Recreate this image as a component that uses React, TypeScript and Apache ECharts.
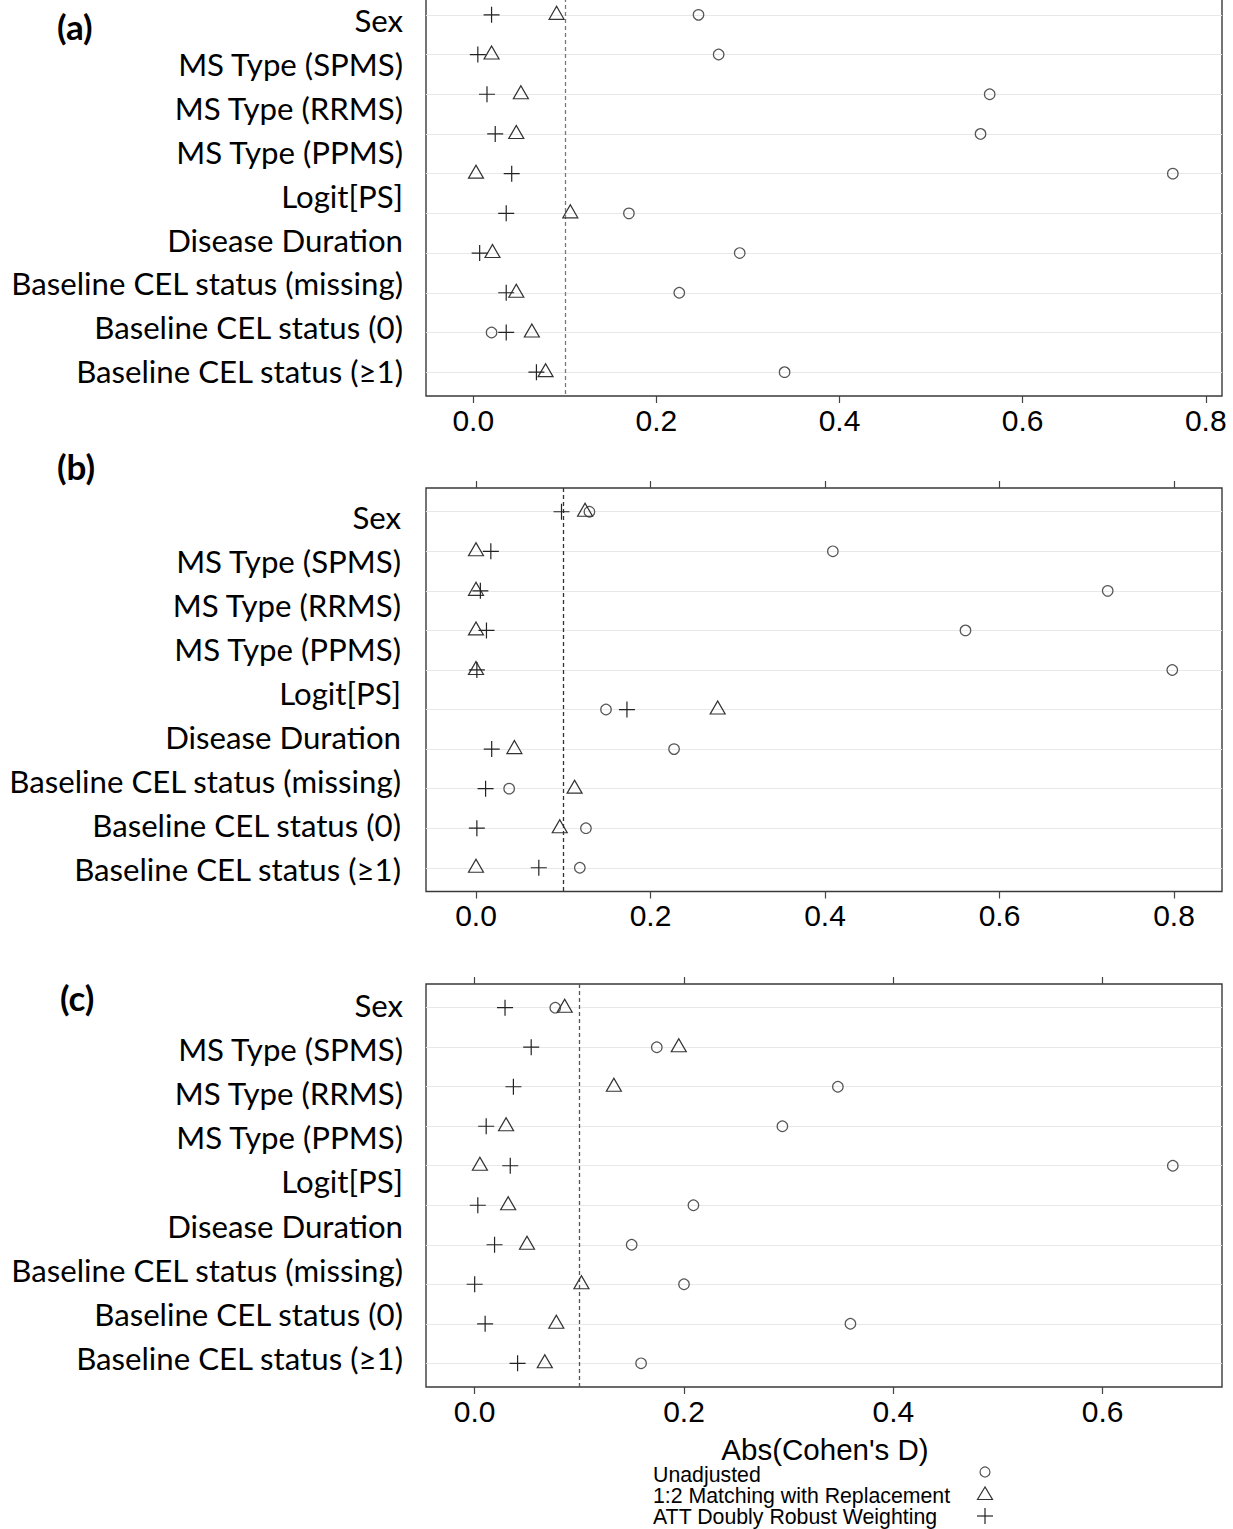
import React, { useEffect, useRef } from "react";
import * as echarts from "echarts";

// ---------- data ----------
const covariates = [
  "Sex",
  "MS Type (SPMS)",
  "MS Type (RRMS)",
  "MS Type (PPMS)",
  "Logit[PS]",
  "Disease Duration",
  "Baseline CEL status (missing)",
  "Baseline CEL status (0)",
  "Baseline CEL status (\u22651)",
];
const panelNames = ["(a)", "(b)", "(c)"];
const methodNames = ["Unadjusted", "1:2 Matching with Replacement", "ATT Doubly Robust Weighting"];
const axisTitle = "Abs(Cohen's D)";

// row values, top row first (10 plotted rows per panel)
const unadjustedA = [0.246, 0.268, 0.564, 0.554, 0.764, 0.17, 0.291, 0.225, 0.02, 0.34];
const matchingA = [0.091, 0.02, 0.052, 0.047, 0.003, 0.106, 0.021, 0.047, 0.064, 0.079];
const attA = [0.02, 0.005, 0.015, 0.024, 0.042, 0.036, 0.007, 0.036, 0.036, 0.069];

const unadjustedB = [0.13, 0.409, 0.724, 0.561, 0.798, 0.149, 0.227, 0.038, 0.126, 0.119];
const matchingB = [0.125, 0.0, 0.0, 0.0, 0.0, 0.277, 0.044, 0.113, 0.096, 0.0];
const attB = [0.098, 0.017, 0.005, 0.012, 0.001, 0.173, 0.018, 0.011, 0.001, 0.072];

const unadjustedC = [0.077, 0.174, 0.347, 0.294, 0.667, 0.209, 0.15, 0.2, 0.359, 0.159];
const matchingC = [0.086, 0.195, 0.133, 0.03, 0.005, 0.032, 0.05, 0.102, 0.078, 0.067];
const attC = [0.029, 0.054, 0.037, 0.011, 0.034, 0.003, 0.019, 0.0, 0.01, 0.041];

const ticksAB = [0, 0.2, 0.4, 0.6, 0.8];
const ticksC = [0, 0.2, 0.4, 0.6];
const threshold = 0.1;

// ---------- layout ----------
const W = 1233;
const H = 1529;
const OFF = 30; // the chart canvas starts above the page so panel (a) can be cut off at its top
const panels = [
  { top: -9, height: 405, xmin: -0.0516, xmax: 0.8177, ticks: ticksAB, data: [unadjustedA, matchingA, attA], dash: "#7a7a7a", labelY: 20, labelRight: 403, labelStep: 43.9, tagX: 57, tagY: 26 },
  { top: 488, height: 403.5, xmin: -0.0573, xmax: 0.855, ticks: ticksAB, data: [unadjustedB, matchingB, attB], dash: "#333333", labelY: 517, labelRight: 401, labelStep: 44, tagX: 57, tagY: 466 },
  { top: 984, height: 403, xmin: -0.0465, xmax: 0.714, ticks: ticksC, data: [unadjustedC, matchingC, attC], dash: "#555555", labelY: 1005, labelRight: 403, labelStep: 44.1, tagX: 60, tagY: 997 },
];

const labelFont = "Lato, 'Open Sans', sans-serif";
const numFont = "'Liberation Sans', Arial, sans-serif";

const symbolDefs = [
  { symbol: "circle", size: 10.5, offset: [0, 0], color: "#555555" },
  { symbol: "triangle", size: [15, 13], offset: [0, -2], color: "#333333" },
  { symbol: "path://M0,8L16,8M8,0L8,16", size: 16, offset: [0, 0], color: "#222222" },
];

export default function App() {
  const ref = useRef<HTMLDivElement>(null);
  useEffect(() => {
    if (!ref.current) return;
    const chart = echarts.init(ref.current, null, { renderer: "svg" });

    const grid: any[] = [];
    const xAxis: any[] = [];
    const yAxis: any[] = [];
    const series: any[] = [];
    const graphic: any[] = [];
    const rows = panels[0].data[0].map((_, i) => i + 1);

    panels.forEach((p, pi) => {
      grid.push({
        left: 426,
        right: 11,
        top: p.top + OFF,
        height: p.height,
        show: true,
        borderColor: "#3a3a3a",
        borderWidth: 1.4,
        backgroundColor: "transparent",
        containLabel: false,
      });
      xAxis.push({
        type: "value",
        gridIndex: pi,
        position: "bottom",
        min: p.xmin,
        max: p.xmax,
        axisLine: { show: false },
        splitLine: { show: false },
        axisTick: { show: true, length: 7, customValues: p.ticks, lineStyle: { color: "#444", width: 1.2 } },
        axisLabel: {
          customValues: p.ticks,
          formatter: (v: number) => v.toFixed(1),
          fontSize: 30,
          fontFamily: numFont,
          color: "#000",
          margin: 9,
        },
      });
      xAxis.push({
        type: "value",
        gridIndex: pi,
        position: "top",
        min: p.xmin,
        max: p.xmax,
        axisLine: { show: false },
        splitLine: { show: false },
        axisTick: { show: true, length: 7, customValues: p.ticks, lineStyle: { color: "#444", width: 1.2 } },
        axisLabel: { show: false },
      });
      yAxis.push({
        type: "value",
        gridIndex: pi,
        min: 0.4,
        max: 10.6,
        inverse: true,
        show: false,
        splitLine: { show: false },
      });

      p.data.forEach((vals, si) => {
        const s = symbolDefs[si];
        const entry: any = {
          type: "scatter",
          name: methodNames[si],
          xAxisIndex: pi * 2,
          yAxisIndex: pi,
          symbol: s.symbol,
          symbolSize: s.size,
          symbolOffset: s.offset,
          itemStyle: { color: "rgba(0,0,0,0)", borderColor: s.color, borderWidth: 1.2, opacity: 1 },
          emphasis: { disabled: true },
          silent: true,
          z: 3 + si,
          data: vals.map((v, i) => [v, rows[i]]),
        };
        if (si === 0) {
          entry.markLine = {
            silent: true,
            symbol: ["none", "none"],
            z: 1,
            label: { show: false },
            emphasis: { disabled: true },
            data: [
              ...rows.map((r) => ({ yAxis: r, lineStyle: { color: "#e8e8e8", width: 1.2, type: "solid" } })),
              { xAxis: threshold, lineStyle: { color: p.dash, width: 1.3, type: [4, 3] } },
            ],
          };
        }
        series.push(entry);
      });

      // panel tag
      graphic.push({
        type: "text",
        x: p.tagX,
        y: p.tagY + OFF,
        style: {
          text: panelNames[pi],
          font: `bold 35px ${labelFont}`,
          fill: "#000",
          align: "left",
          verticalAlign: "middle",
          textAlign: "left",
          textVerticalAlign: "middle",
        },
      });
      // covariate labels
      covariates.forEach((c, ci) => {
        graphic.push({
          type: "text",
          x: p.labelRight,
          y: p.labelY + ci * p.labelStep + OFF,
          style: {
            text: c,
            font: `31.2px ${labelFont}`,
            lineHeight: 36,
            fill: "#000",
            align: "right",
            verticalAlign: "middle",
            textAlign: "right",
            textVerticalAlign: "middle",
          },
        });
      });
    });

    // axis title and legend
    graphic.push({
      type: "text",
      x: 825,
      y: 1449 + OFF,
      style: { text: axisTitle, font: `29.5px ${numFont}`, lineHeight: 24, fill: "#000", align: "center", verticalAlign: "middle", textAlign: "center", textVerticalAlign: "middle" },
    });
    const legY = [1475, 1496, 1517];
    methodNames.forEach((m, mi) => {
      graphic.push({
        type: "text",
        x: 653,
        y: legY[mi] + OFF,
        style: { text: m, font: `21.3px ${numFont}`, lineHeight: 19, fill: "#000", align: "left", verticalAlign: "middle", textAlign: "left", textVerticalAlign: "middle" },
      });
    });
    graphic.push({ type: "circle", shape: { cx: 985, cy: 1472 + OFF, r: 5 }, style: { fill: "none", stroke: "#555", lineWidth: 1.2 } });
    graphic.push({
      type: "polygon",
      shape: { points: [[985, 1487 + OFF], [977.5, 1499.5 + OFF], [992.5, 1499.5 + OFF]] },
      style: { fill: "none", stroke: "#333", lineWidth: 1.2 },
    });
    graphic.push({ type: "line", shape: { x1: 977, y1: 1516 + OFF, x2: 993, y2: 1516 + OFF }, style: { stroke: "#222", lineWidth: 1.2 } });
    graphic.push({ type: "line", shape: { x1: 985, y1: 1508 + OFF, x2: 985, y2: 1524 + OFF }, style: { stroke: "#222", lineWidth: 1.2 } });

    chart.setOption({
      animation: false,
      backgroundColor: "#ffffff",
      grid,
      xAxis,
      yAxis,
      series,
      graphic,
    });
    return () => chart.dispose();
  }, []);
  return <div ref={ref} style={{ position: "absolute", left: 0, top: -OFF, width: W, height: H + OFF }} />;
}
